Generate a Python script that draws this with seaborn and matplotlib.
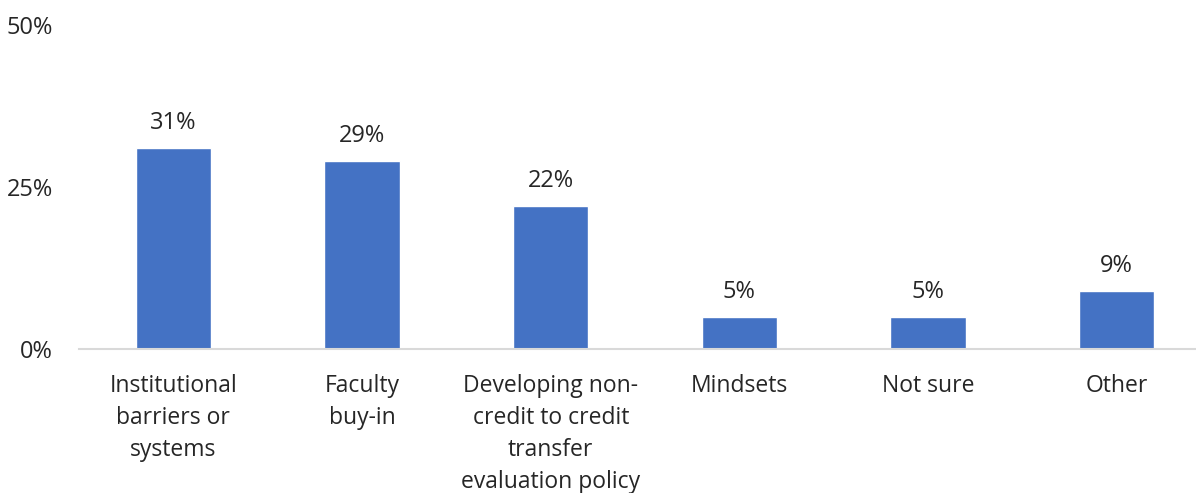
import pandas as pd
import matplotlib
matplotlib.use('Agg')
import matplotlib.pyplot as plt
import matplotlib.ticker as ticker
import seaborn as sns

categories = ['Institutional\nbarriers or\nsystems', 'Faculty\nbuy-in',
              'Developing non-\ncredit to credit\ntransfer\nevaluation policy',
              'Mindsets', 'Not sure', 'Other']
values = [31, 29, 22, 5, 5, 9]

BAR_COLOR = '#4472C4'
TEXT_COLOR = '#262626'

sns.set_style('white')
plt.rcParams['font.family'] = ['Open Sans', 'DejaVu Sans']

df = pd.DataFrame({'cat': categories, 'pct': values})

fig = plt.figure(figsize=(11.96, 4.93), dpi=100)
# plot area runs a bit past the right edge, like the original
ax = fig.add_axes([0.0661, 0.2921, 0.9465, 0.6572])
sns.barplot(data=df, x='cat', y='pct', color=BAR_COLOR, width=0.4,
            saturation=1, ax=ax)

ax.set_ylim(0, 50)
ax.set_xlim(-0.5, len(categories) - 0.5)
ax.yaxis.set_major_locator(ticker.MultipleLocator(25))
ax.yaxis.set_major_formatter(ticker.FuncFormatter(lambda v, p: f'{v:.0f}%'))
ax.set_xlabel('')
ax.set_ylabel('')

for s in ['top', 'right', 'left']:
    ax.spines[s].set_visible(False)
ax.spines['bottom'].set_color('#D9D9D9')
ax.spines['bottom'].set_linewidth(1.5)

ax.tick_params(axis='y', length=0, pad=19, labelsize=17, labelcolor=TEXT_COLOR)
ax.tick_params(axis='x', length=0, pad=18, labelsize=16.5, labelcolor=TEXT_COLOR)
for lbl in ax.get_xticklabels():
    lbl.set_linespacing(1.44)
    lbl.set_verticalalignment('top')

for i, v in enumerate(values):
    ax.annotate(f'{v}%', (i, v), xytext=(0, 18), textcoords='offset points',
                ha='center', va='center', fontsize=17, color=TEXT_COLOR)

plt.savefig('out.png', dpi=100)
